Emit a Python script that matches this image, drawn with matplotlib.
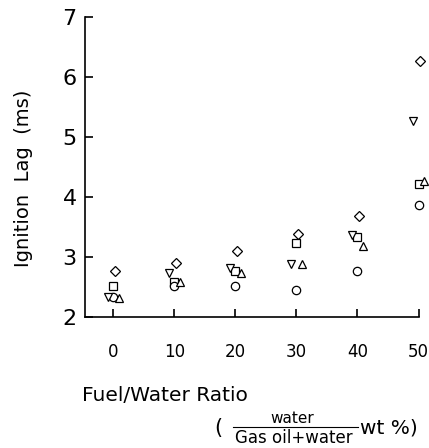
import matplotlib.pyplot as plt
from matplotlib.lines import Line2D
import numpy as np

plt.rcParams['font.family'] = ['DejaVu Sans']

# water content, wt %
ratio = [0, 10, 20, 30, 40, 50]

# ignition lag (ms) read per marker type
lag_diamond = [2.77, 2.90, 3.10, 3.39, 3.68, 6.27]
lag_square = [2.52, 2.59, 2.77, 3.23, 3.34, 4.22]
lag_circle = [2.33, 2.51, 2.51, 2.45, 2.77, 3.87]
lag_tri_down = [2.34, 2.74, 2.81, 2.88, 3.37, 5.27]
lag_tri_up = [2.32, 2.59, 2.73, 2.88, 3.18, 4.26]

x_ticks = [0, 10, 20, 30, 40, 50]
y_ticks = [2, 3, 4, 5, 6, 7]

W, H = 429, 448
fig = plt.figure(figsize=(W / 100, H / 100), dpi=100)
ax = fig.add_axes([85 / W, 1 - 317 / H, 333.5 / W, 300 / H])

# marker, size, small sideways dodge so overlapping symbols stay readable
series = [
    (lag_diamond, 'D', 5.2, 0.2),
    (lag_square, 's', 5.2, 0.0),
    (lag_circle, 'o', 6.0, 0.0),
    (lag_tri_down, 'v', 5.2, -0.9),
    (lag_tri_up, '^', 5.2, 0.9),
]
x = np.array(ratio, dtype=float)
for lag, mk, ms, dx in series:
    ax.plot(x + dx, lag, linestyle='none', marker=mk, markersize=ms,
            markerfacecolor='white', markeredgecolor='black',
            markeredgewidth=0.9, clip_on=False)

ax.set_xlim(-4.64, 50)
ax.set_ylim(2, 7)
ax.set_xticks(x_ticks)
ax.set_yticks(y_ticks)
ax.spines['top'].set_visible(False)
ax.spines['right'].set_visible(False)
for s in ('left', 'bottom'):
    ax.spines[s].set_linewidth(1.2)

ax.tick_params(axis='x', direction='in', length=6, width=1.2, pad=19,
               labelsize=12)
ax.tick_params(axis='y', direction='in', length=6, width=1.2, pad=6,
               labelsize=16)

fig.text(24 / W, 1 - 178 / H, 'Ignition  Lag  (ms)', fontsize=14,
         rotation=90, ha='center', va='center')

fig.text(82 / W, 1 - 395 / H, 'Fuel/Water Ratio', fontsize=14.5,
         ha='left', va='center')

# ( water / (Gas oil + water)  wt % )
fig.text(218 / W, 1 - 428 / H, '(', fontsize=15, ha='center', va='center')
fig.text(292 / W, 1 - 418 / H, 'water', fontsize=11, ha='center',
         va='center')
fig.add_artist(Line2D([233 / W, 358 / W], [1 - 427 / H, 1 - 427 / H],
                      color='black', linewidth=0.8))
fig.text(294 / W, 1 - 438 / H, 'Gas oil+water', fontsize=12, ha='center',
         va='center')
fig.text(360 / W, 1 - 428 / H, 'wt %)', fontsize=14.5, ha='left',
         va='center')

fig.savefig('out.png', dpi=100)
